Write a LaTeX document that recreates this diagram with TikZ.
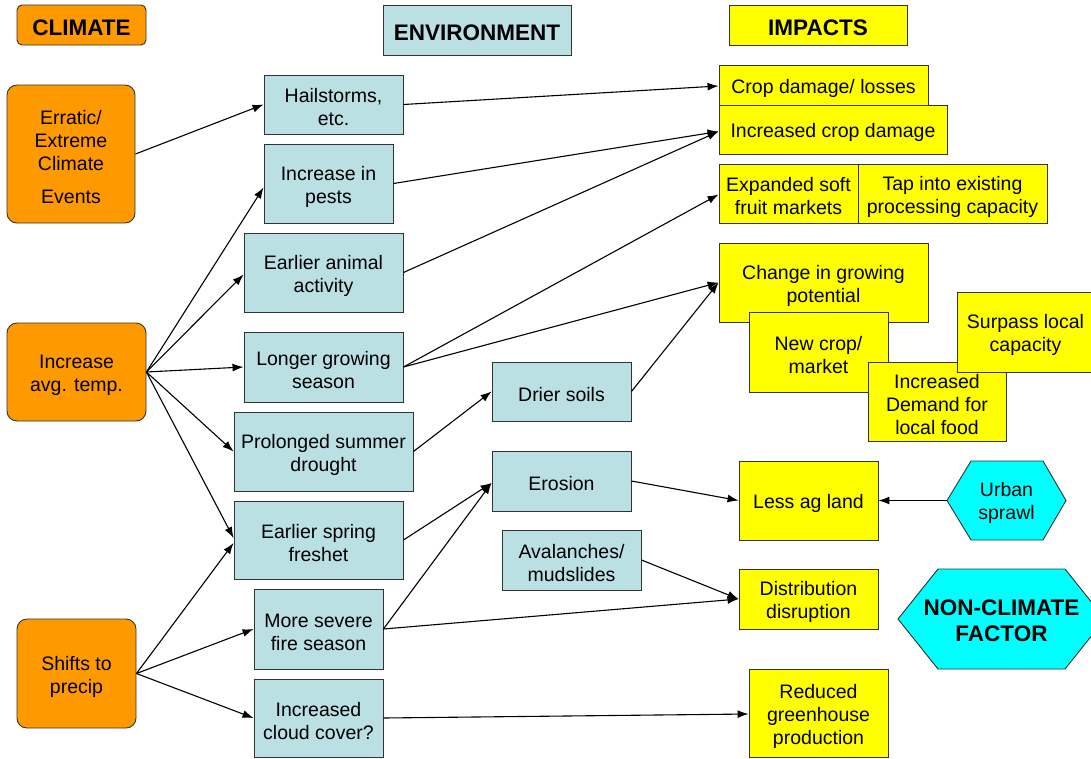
\documentclass[tikz,border=0pt]{standalone}
\usepackage{fontspec}
\setmainfont{Liberation Sans}
\usetikzlibrary{arrows.meta}
\definecolor{orng}{RGB}{255,153,0}
\definecolor{envblue}{RGB}{187,224,227}
\definecolor{impyel}{RGB}{255,255,0}
\definecolor{hexcyan}{RGB}{0,255,255}
\newcommand\boxnode[7]{\node[#1, minimum width={#5-#3}, minimum height={#6-#4}] (#2) at ({(#3+#5)/2},{(#4+#6)/2}) {};
  \node[txt, #1, draw=none, fill=none] at ([yshift=-3pt]#2.center) {#7};}
\begin{document}
\begin{tikzpicture}[x=1pt,y=-1pt,
  base/.style={draw=black!80, line width=0.9pt, inner sep=0pt, align=center, font=\fontsize{19.5}{23}\selectfont},
  txt/.style={inner sep=0pt, align=center, font=\fontsize{19.5}{23}\selectfont},
  clim/.style={base, fill=orng, rounded corners=10pt},
  env/.style={base, fill=envblue},
  imp/.style={base, fill=impyel},
  ttl/.style={font=\fontsize{22.5}{26}\selectfont\bfseries},
  hex/.style={draw=black!80, line width=0.9pt, fill=hexcyan},
  hextext/.style={inner sep=0pt, align=center, font=\fontsize{19.5}{23}\selectfont},
  arr/.style={-{Latex[length=11pt,width=8pt]}, line width=1.1pt},
]
\useasboundingbox (0,0) rectangle (1091,758);
\clip (0,0) rectangle (1091,758);

% titles
\boxnode{clim, rounded corners=5pt, ttl}{tclim}{17}{5}{146}{45}{CLIMATE}
\boxnode{env, ttl}{tenv}{383}{5}{571}{55}{ENVIRONMENT}
\boxnode{imp, ttl}{timp}{729}{5}{907}{45}{IMPACTS}

% climate
\boxnode{clim}{erratic}{7}{85}{135}{223}{Erratic/\\Extreme\\Climate\\[10pt]Events}
\boxnode{clim}{temp}{7}{323}{146}{421}{Increase\\avg. temp.}
\boxnode{clim}{precip}{17}{619}{136}{728}{Shifts to\\precip}

% environment
\boxnode{env}{hail}{264}{75}{403}{134}{Hailstorms,\\etc.}
\boxnode{env}{pests}{264}{144}{393}{223}{Increase in\\pests}
\boxnode{env}{animal}{244}{233}{403}{312}{Earlier animal\\activity}
\boxnode{env}{longer}{244}{332}{403}{402}{Longer growing\\season}
\boxnode{env}{drought}{234}{412}{413}{491}{Prolonged summer\\drought}
\boxnode{env}{freshet}{234}{501}{403}{579}{Earlier spring\\freshet}
\boxnode{env}{fire}{254}{589}{383}{669}{More severe\\fire season}
\boxnode{env}{cloud}{254}{679}{383}{757}{Increased\\cloud cover?}
\boxnode{env}{drier}{492}{362}{631}{421}{Drier soils}
\boxnode{env}{erosion}{492}{451}{631}{511}{Erosion}
\boxnode{env}{aval}{502}{530}{641}{590}{Avalanches/\\mudslides}

% impacts
\boxnode{imp}{crop}{719}{65}{928}{105}{Crop damage/ losses}
\boxnode{imp}{incrop}{719}{105}{947}{154}{Increased crop damage}
\boxnode{imp}{soft}{719}{164}{858}{223}{Expanded soft\\fruit markets}
\boxnode{imp}{tap}{858}{164}{1047}{223}{Tap into existing\\processing capacity}
\boxnode{imp}{change}{719}{243}{928}{322}{Change in growing\\potential}
\boxnode{imp}{newcrop}{749}{312}{888}{392}{New crop/\\market}
\boxnode{imp}{demand}{868}{362}{1006}{441}{Increased\\Demand for\\local food}
\boxnode{imp}{surpass}{957}{292}{1094}{372}{Surpass local\\capacity}
\boxnode{imp}{less}{739}{461}{878}{540}{Less ag land}
\boxnode{imp}{dist}{739}{569}{878}{629}{Distribution\\disruption}
\boxnode{imp}{reduced}{749}{669}{888}{757}{Reduced\\greenhouse\\production}

% non-climate hexagons
\draw[hex] (947,500.5) -- (971,461) -- (1043,461) -- (1066,500.5) -- (1043,540) -- (971,540) -- cycle;
\node[hextext, minimum width=119pt, minimum height=79pt] (urban) at (1006.5,500.5) {};
\node[hextext] at ([yshift=-2pt]urban.center) {Urban\\sprawl};
\draw[hex] (898,619) -- (938,569) -- (1065,569) -- (1105,619) -- (1065,669) -- (938,669) -- cycle;
\node[hextext, font=\fontsize{22.5}{26}\selectfont\bfseries] (noncl) at (1001.5,621) {NON-CLIMATE\\FACTOR};

% arrows
\draw[arr] (erratic.east) -- (hail.west);
\draw[arr] (temp.east) -- ([yshift=-4pt]pests.west);
\draw[arr] (temp.east) -- ([yshift=-2pt]animal.west);
\draw[arr] (temp.east) -- (longer.west);
\draw[arr] (temp.east) -- (drought.west);
\draw[arr] (temp.east) -- ([yshift=2pt]freshet.west);
\draw[arr] (precip.east) -- ([yshift=-3pt]freshet.west);
\draw[arr] (precip.east) -- (fire.west);
\draw[arr] (precip.east) -- (cloud.west);
\draw[arr] (hail.east) -- ([yshift=-1pt]crop.west);
\draw[arr] (pests.east) -- ([yshift=-2pt]incrop.west);
\draw[arr] (animal.east) -- ([yshift=-2pt]incrop.west);
\draw[arr] (longer.east) -- ([yshift=-1pt]soft.west);
\draw[arr] (longer.east) -- (change.west);
\draw[arr] (drier.east) -- (change.west);
\draw[arr] (drought.east) -- (drier.west);
\draw[arr] (freshet.east) -- ([yshift=-2pt]erosion.west);
\draw[arr] (fire.east) -- ([yshift=-2pt]erosion.west);
\draw[arr] (fire.east) -- (dist.west);
\draw[arr] (aval.east) -- (dist.west);
\draw[arr] (erosion.east) -- (less.west);
\draw[arr] (urban.west) -- (less.east);
\draw[arr] (cloud.east) -- ([yshift=-1pt]reduced.west);
\end{tikzpicture}
\end{document}
